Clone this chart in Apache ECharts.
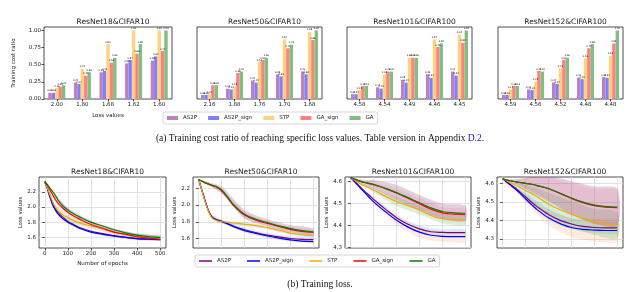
<!DOCTYPE html>
<html><head><meta charset="utf-8">
<script src="https://cdn.jsdelivr.net/npm/echarts@6/dist/echarts.min.js"></script>
<style>html,body{margin:0;padding:0;background:#fff}#c{width:640px;height:292px}</style>
</head><body><div id="c"></div>
<script>
// ---------- data ----------
const methods = ['AS2P', 'AS2P_sign', 'STP', 'GA_sign', 'GA'];
const plotTitles = ['ResNet18&CIFAR10', 'ResNet50&CIFAR10', 'ResNet101&CIFAR100', 'ResNet152&CIFAR100'];

// top row: loss-value categories
const lossCatsR18 = ['2.00', '1.80', '1.68', '1.62', '1.60'];
const lossCatsR50 = ['2.16', '1.88', '1.76', '1.70', '1.68'];
const lossCatsR101 = ['4.58', '4.54', '4.49', '4.46', '4.45'];
const lossCatsR152 = ['4.59', '4.56', '4.52', '4.48', '4.48'];

// training cost ratio, rows in order AS2P, AS2P_sign, STP, GA_sign, GA
const ratioR18 = [
  [0.09, 0.24, 0.39, 0.52, 0.56],
  [0.09, 0.22, 0.41, 0.57, 0.62],
  [0.16, 0.44, 0.80, 1.00, 1.00],
  [0.18, 0.34, 0.53, 0.66, 0.70],
  [0.20, 0.39, 0.60, 0.80, 1.00]
];
const ratioR50 = [
  [0.06, 0.15, 0.27, 0.36, 0.40],
  [0.06, 0.14, 0.24, 0.33, 0.36],
  [0.07, 0.18, 0.54, 0.87, 0.98],
  [0.20, 0.38, 0.57, 0.74, 0.86],
  [0.20, 0.40, 0.60, 0.79, 1.00]
];
const ratioR101 = [
  [0.07, 0.17, 0.28, 0.36, 0.40],
  [0.07, 0.15, 0.24, 0.31, 0.34],
  [0.13, 0.36, 0.60, 0.87, 0.94],
  [0.19, 0.40, 0.60, 0.76, 0.82],
  [0.19, 0.40, 0.60, 0.81, 1.00]
];
const ratioR152 = [
  [0.06, 0.14, 0.24, 0.31, 0.32],
  [0.06, 0.13, 0.22, 0.29, 0.31],
  [0.14, 0.25, 0.45, 0.59, 0.63],
  [0.19, 0.41, 0.57, 0.74, 0.81],
  [0.19, 0.40, 0.60, 0.80, 1.00]
];
const ratioTicks = [0, 0.25, 0.5, 0.75, 1.0];

// bottom row: training loss vs epochs
const epochs = [0, 10, 20, 30, 40, 50, 60, 80, 100, 125, 150, 200, 250, 300, 350, 400, 450, 500];
const epochTicks = [0, 100, 200, 300, 400, 500];
const lossR18 = [
  [2.33, 2.26, 2.17, 2.08, 2.01, 1.96, 1.92, 1.86, 1.81, 1.77, 1.73, 1.68, 1.65, 1.62, 1.60, 1.585, 1.58, 1.575],
  [2.33, 2.25, 2.15, 2.06, 1.99, 1.94, 1.90, 1.84, 1.80, 1.76, 1.72, 1.67, 1.64, 1.62, 1.60, 1.58, 1.575, 1.57],
  [2.33, 2.26, 2.18, 2.10, 2.03, 1.98, 1.94, 1.89, 1.86, 1.82, 1.79, 1.75, 1.71, 1.67, 1.64, 1.62, 1.60, 1.59],
  [2.33, 2.29, 2.24, 2.18, 2.13, 2.08, 2.04, 1.98, 1.93, 1.88, 1.84, 1.77, 1.72, 1.67, 1.64, 1.61, 1.59, 1.575],
  [2.34, 2.30, 2.26, 2.22, 2.18, 2.13, 2.08, 2.01, 1.96, 1.91, 1.87, 1.80, 1.75, 1.70, 1.66, 1.63, 1.61, 1.60]
];
const lossR50 = [
  [2.305, 2.21, 2.12, 2.03, 1.95, 1.89, 1.85, 1.82, 1.805, 1.78, 1.75, 1.705, 1.67, 1.64, 1.62, 1.60, 1.59, 1.588],
  [2.305, 2.21, 2.12, 2.03, 1.95, 1.89, 1.85, 1.82, 1.805, 1.775, 1.745, 1.695, 1.66, 1.63, 1.605, 1.585, 1.57, 1.564],
  [2.305, 2.21, 2.11, 2.02, 1.94, 1.88, 1.84, 1.81, 1.80, 1.795, 1.785, 1.77, 1.755, 1.73, 1.70, 1.665, 1.645, 1.633],
  [2.305, 2.29, 2.275, 2.26, 2.25, 2.24, 2.23, 2.21, 2.17, 2.09, 2.00, 1.88, 1.82, 1.78, 1.745, 1.71, 1.685, 1.672],
  [2.305, 2.29, 2.28, 2.265, 2.255, 2.245, 2.235, 2.215, 2.18, 2.10, 2.01, 1.89, 1.83, 1.79, 1.75, 1.72, 1.695, 1.68]
];
const lossR101 = [
  [4.617, 4.607, 4.597, 4.587, 4.576, 4.566, 4.556, 4.537, 4.518, 4.496, 4.475, 4.435, 4.405, 4.384, 4.371, 4.368, 4.367, 4.367],
  [4.617, 4.606, 4.595, 4.584, 4.572, 4.561, 4.550, 4.528, 4.507, 4.484, 4.463, 4.423, 4.392, 4.369, 4.355, 4.350, 4.349, 4.349],
  [4.617, 4.610, 4.603, 4.597, 4.590, 4.585, 4.580, 4.571, 4.561, 4.547, 4.533, 4.508, 4.490, 4.470, 4.445, 4.430, 4.425, 4.423],
  [4.617, 4.613, 4.609, 4.605, 4.601, 4.598, 4.595, 4.590, 4.585, 4.577, 4.568, 4.547, 4.523, 4.498, 4.474, 4.457, 4.451, 4.449],
  [4.617, 4.613, 4.609, 4.605, 4.601, 4.598, 4.595, 4.591, 4.586, 4.578, 4.569, 4.549, 4.526, 4.503, 4.480, 4.463, 4.457, 4.455]
];
const lossR152 = [
  [4.624, 4.614, 4.605, 4.596, 4.587, 4.578, 4.569, 4.548, 4.526, 4.499, 4.474, 4.432, 4.400, 4.381, 4.368, 4.362, 4.360, 4.360],
  [4.624, 4.613, 4.603, 4.593, 4.583, 4.573, 4.563, 4.540, 4.515, 4.486, 4.458, 4.414, 4.383, 4.362, 4.352, 4.348, 4.346, 4.346],
  [4.624, 4.617, 4.611, 4.605, 4.598, 4.592, 4.586, 4.574, 4.561, 4.545, 4.527, 4.488, 4.457, 4.433, 4.412, 4.392, 4.380, 4.375],
  [4.624, 4.619, 4.616, 4.613, 4.611, 4.609, 4.607, 4.603, 4.599, 4.594, 4.587, 4.570, 4.545, 4.518, 4.495, 4.479, 4.471, 4.468],
  [4.624, 4.619, 4.616, 4.613, 4.611, 4.609, 4.607, 4.603, 4.599, 4.594, 4.587, 4.571, 4.546, 4.520, 4.498, 4.482, 4.474, 4.471]
];
// half-width of shaded spread, at these epochs
const bandEpochs = [0, 50, 100, 200, 300, 400, 500];
const spreadR18 = [
  [0, 0.03, 0.03, 0.02, 0.02, 0.02, 0.02],
  [0, 0.02, 0.02, 0.02, 0.02, 0.02, 0.02],
  [0, 0.04, 0.04, 0.03, 0.03, 0.03, 0.03],
  [0, 0.03, 0.03, 0.02, 0.02, 0.02, 0.02],
  [0, 0.02, 0.03, 0.02, 0.02, 0.02, 0.02]
];
const spreadR50 = [
  [0, 0.02, 0.02, 0.03, 0.03, 0.03, 0.03],
  [0, 0.02, 0.02, 0.02, 0.02, 0.02, 0.02],
  [0, 0.02, 0.02, 0.02, 0.02, 0.02, 0.02],
  [0, 0.02, 0.03, 0.04, 0.03, 0.03, 0.03],
  [0, 0.02, 0.04, 0.05, 0.04, 0.04, 0.04]
];
const spreadR101 = [
  [0, 0.005, 0.01, 0.015, 0.015, 0.015, 0.015],
  [0, 0.005, 0.01, 0.02, 0.025, 0.025, 0.025],
  [0, 0.005, 0.01, 0.02, 0.02, 0.02, 0.02],
  [0, 0.005, 0.01, 0.02, 0.025, 0.025, 0.025],
  [0, 0.01, 0.02, 0.035, 0.035, 0.035, 0.035]
];
const spreadR152 = [
  [0, 0.005, 0.02, 0.03, 0.03, 0.03, 0.03],
  [0, 0.005, 0.02, 0.04, 0.05, 0.06, 0.06],
  [0, 0.01, 0.03, 0.06, 0.07, 0.07, 0.07],
  [0, 0.01, 0.03, 0.06, 0.08, 0.09, 0.09],
  [0, 0.01, 0.03, 0.07, 0.09, 0.10, 0.10]
];
const lossTicksR18 = [1.6, 1.8, 2.0, 2.2];
const lossTicksR50 = [1.6, 1.8, 2.0, 2.2];
const lossTicksR101 = [4.3, 4.4, 4.5, 4.6];
const lossTicksR152 = [4.3, 4.4, 4.5, 4.6];

// ---------- styles ----------
const barColors = ['#bf80bf', '#8080ff', '#ffd280', '#ff8080', '#80bf80'];
const lineColors = ['#800080', '#0000ff', '#ffa500', '#ff0000', '#008000'];
const bandColors = ['rgba(135,206,250,0.30)', 'rgba(255,160,90,0.20)', 'rgba(60,170,60,0.20)', 'rgba(255,120,120,0.15)', 'rgba(150,60,130,0.25)'];
const FONT = 'DejaVu Sans';
const TXT = '#222';

const barCats = [lossCatsR18, lossCatsR50, lossCatsR101, lossCatsR152];
const barVals = [ratioR18, ratioR50, ratioR101, ratioR152];
const lossVals = [lossR18, lossR50, lossR101, lossR152];
const spreads = [spreadR18, spreadR50, spreadR101, spreadR152];
const lossTicks = [lossTicksR18, lossTicksR50, lossTicksR101, lossTicksR152];
const lossRanges = [[1.46, 2.395], [1.487, 2.334], [4.297, 4.62], [4.252, 4.633]];

const topBoxes = [[44, 128], [197, 125], [347, 125], [498, 125]];
const botBoxes = [[39, 127], [193, 126], [345, 126], [497, 126]];

const grid = [], xAxis = [], yAxis = [], series = [], title = [];

topBoxes.forEach((b, p) => {
  grid.push({ left: b[0], top: 27, width: b[1], height: 72, show: true, borderColor: '#222', borderWidth: 0.8, backgroundColor: 'transparent' });
  title.push({ text: plotTitles[p], left: b[0] + b[1] / 2, top: 13, textAlign: 'center',
    textStyle: { fontFamily: FONT, fontSize: 7.5, fontWeight: 'normal', color: TXT } });
  xAxis.push({ type: 'category', gridIndex: p, data: barCats[p],
    axisLine: { show: false }, axisTick: { show: true, alignWithLabel: true, length: 2.5, lineStyle: { color: '#222', width: 0.8 } },
    axisLabel: { fontFamily: FONT, fontSize: 5.5, color: TXT, margin: 3 },
    name: p === 0 ? 'Loss values' : '', nameLocation: 'middle', nameGap: 14,
    nameTextStyle: { fontFamily: FONT, fontSize: 5.5, color: TXT } });
  yAxis.push({ type: 'value', gridIndex: p, min: 0, max: 1.05,
    axisLine: { show: false }, splitLine: { show: false },
    axisTick: { show: p === 0, customValues: ratioTicks, length: 2.5, lineStyle: { color: '#222', width: 0.8 } },
    axisLabel: { show: p === 0, customValues: ratioTicks, formatter: v => v.toFixed(2), fontFamily: FONT, fontSize: 5.5, color: TXT, margin: 3 },
    name: p === 0 ? 'Training cost ratio' : '', nameLocation: 'middle', nameGap: 27, nameRotate: 90,
    nameTextStyle: { fontFamily: FONT, fontSize: 5.5, color: TXT } });
  methods.forEach((m, k) => {
    series.push({ type: 'bar', name: m, xAxisIndex: p, yAxisIndex: p, data: barVals[p][k],
      barWidth: 3.4, barGap: '0%', itemStyle: { color: barColors[k] },
      label: { show: true, position: 'top', distance: 1, fontSize: 2.4, fontFamily: FONT, color: '#000',
        formatter: q => q.value.toFixed(2) } });
  });
});

botBoxes.forEach((b, pp) => {
  const gi = 4 + pp;
  grid.push({ left: b[0], top: 177, width: b[1], height: 71, show: true, borderColor: '#222', borderWidth: 0.8, backgroundColor: 'transparent' });
  title.push({ text: plotTitles[pp], left: b[0] + b[1] / 2, top: 163, textAlign: 'center',
    textStyle: { fontFamily: FONT, fontSize: 7.5, fontWeight: 'normal', color: TXT } });
  xAxis.push({ type: 'value', gridIndex: gi, min: -25, max: 525,
    axisLine: { show: false },
    axisTick: { show: pp === 0, customValues: epochTicks, length: 2.5, lineStyle: { color: '#222', width: 0.8 } },
    axisLabel: { show: pp === 0, customValues: epochTicks, fontFamily: FONT, fontSize: 5.5, color: TXT, margin: 3 },
    splitLine: { show: true, lineStyle: { color: '#d9d9d9', width: 0.8 } },
    name: pp === 0 ? 'Number of epochs' : '', nameLocation: 'middle', nameGap: 13,
    nameTextStyle: { fontFamily: FONT, fontSize: 5.5, color: TXT } });
  yAxis.push({ type: 'value', gridIndex: gi, min: lossRanges[pp][0], max: lossRanges[pp][1],
    axisLine: { show: false },
    axisTick: { show: true, customValues: lossTicks[pp], length: 2.5, lineStyle: { color: '#222', width: 0.8 } },
    axisLabel: { show: true, customValues: lossTicks[pp], formatter: v => v.toFixed(1), fontFamily: FONT, fontSize: 5.5, color: TXT, margin: 3 },
    splitLine: { show: true, lineStyle: { color: '#d9d9d9', width: 0.8 } },
    name: 'Loss values', nameLocation: 'middle', nameGap: 15, nameRotate: 90,
    nameTextStyle: { fontFamily: FONT, fontSize: 5.5, color: TXT } });
  // spread bands (custom polygons through the axes' coordinate system)
  methods.forEach((m, k) => {
    series.push({ type: 'custom', name: 'band' + pp + '_' + k, xAxisIndex: gi, yAxisIndex: gi,
      data: [[0, lossVals[pp][k][0]]], silent: true, z: 1, clip: true,
      renderItem: (params, api) => {
        const up = [], lo = [];
        bandEpochs.forEach((e, j) => {
          const v = lossVals[pp][k][epochs.indexOf(e)];
          const s = spreads[pp][k][j];
          up.push(api.coord([e, v + s]));
          lo.push(api.coord([e, v - s]));
        });
        return { type: 'polygon', shape: { points: up.concat(lo.reverse()), smooth: 0.25 },
          style: { fill: bandColors[k] } };
      } });
  });
  methods.forEach((m, k) => {
    series.push({ type: 'line', name: m, xAxisIndex: gi, yAxisIndex: gi,
      data: epochs.map((e, i) => [e, lossVals[pp][k][i]]),
      smooth: 0.35, symbol: 'none', lineStyle: { width: 1.2, color: lineColors[k] }, itemStyle: { color: lineColors[k] }, z: 3 });
  });
});

const legendText = { fontFamily: FONT, fontSize: 5.5, color: TXT };
const option = {
  animation: false,
  backgroundColor: '#fff',
  title: title,
  grid: grid, xAxis: xAxis, yAxis: yAxis, series: series,
  legend: [
    { left: 163, top: 112, icon: 'rect', itemWidth: 11, itemHeight: 4, itemGap: 11,
      data: methods.map((n, i) => ({ name: n, itemStyle: { color: barColors[i] } })),
      textStyle: legendText, borderColor: '#ccc', borderWidth: 0.8, borderRadius: 2, padding: [3, 4], selectedMode: false },
    { left: 195, top: 255, icon: 'rect', itemWidth: 13, itemHeight: 1.5, itemGap: 16,
      data: methods.map((n, i) => ({ name: n, itemStyle: { color: lineColors[i] } })),
      textStyle: legendText, borderColor: '#ccc', borderWidth: 0.8, borderRadius: 2, padding: [3, 4], selectedMode: false }
  ],
  graphic: [
    { type: 'text', left: 'center', top: 133,
      style: { text: '(a) Training cost ratio of reaching specific loss values. Table version in Appendix {b|D.2}.',
        font: '9.5px "Liberation Serif"', fill: '#111', rich: { b: { fill: '#2020d0', font: '9.5px "Liberation Serif"' } } } },
    { type: 'text', left: 'center', top: 279,
      style: { text: '(b) Training loss.', font: '9.5px "Liberation Serif"', fill: '#111' } }
  ]
};
const chart = echarts.init(document.getElementById('c'), null, { renderer: 'canvas' });
chart.setOption(option);
</script>
</body></html>
